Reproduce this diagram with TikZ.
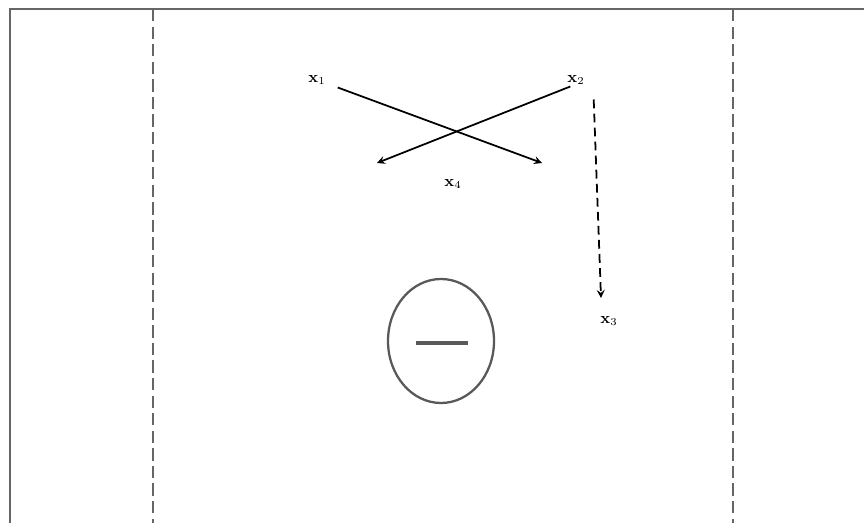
\documentclass[tikz,border=0pt]{standalone}
\usetikzlibrary{shapes.geometric}
\begin{document}
\begin{tikzpicture}[x=0.02cm, y=-0.02cm, >=stealth,
    lab/.style={font=\small\bfseries, inner sep=1pt},
    wall/.style={draw=black!60, line width=1.6pt},
    divider/.style={draw=black!60, line width=1.4pt, dash pattern=on 7pt off 3pt}]
    \useasboundingbox (0,0) rectangle (864,523);
    \draw[wall] (10,523) -- (10,9) -- (864,9);
    \draw[divider] (153,9) -- (153,523);
    \draw[divider] (733,9) -- (733,523);
    % players
    \node[lab] (x1) at (317,80) {x$_1$};
    \node[lab] (x2) at (576,80) {x$_2$};
    \node[lab] (x3) at (609,321) {x$_3$};
    \node[lab] (x4) at (453,184) {x$_4$};
    \coordinate (p1) at (542,163);
    \coordinate (p2) at (377,163);
    \coordinate (p3) at (601,298);
    \draw[->, line width=1pt] (x1.south east) ++(10,1) -- (p1);
    \draw[->, line width=1pt] (x2.south west) ++(5,0) -- (p2);
    \draw[->, line width=1pt, dash pattern=on 5pt off 3pt] (x2.south east) ++(7,13) -- (p3);
    % ball
    \node[ellipse, draw=black!65, line width=1.3pt, minimum width=106*0.02cm, minimum height=124*0.02cm] (ball) at (441,341) {};
    \draw[black!65, line width=2pt] (ball.center) ++(-25,2) -- ++(52,0);
\end{tikzpicture}
\end{document}
